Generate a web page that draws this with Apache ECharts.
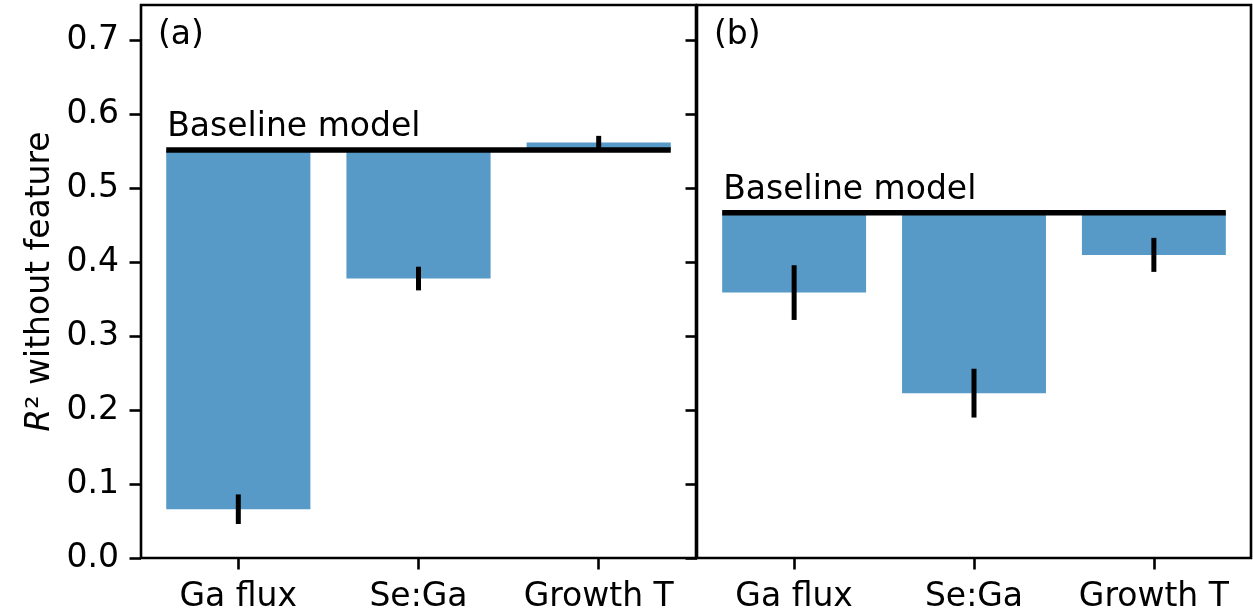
<!DOCTYPE html>
<html>
<head>
<meta charset="utf-8">
<script src="https://cdn.jsdelivr.net/npm/echarts@6/dist/echarts.min.js"></script>
<style>html,body{margin:0;padding:0;background:#fff}#c{width:1253px;height:615px}</style>
</head>
<body>
<div id="c"></div>
<script>
// ---- data ----
const categories = ['Ga flux', 'Se:Ga', 'Growth T'];
const baselineA = 0.552;
const valuesA = [0.066, 0.378, 0.562];
const errorsA = [0.020, 0.016, 0.009];
const baselineB = 0.467;
const valuesB = [0.359, 0.223, 0.410];
const errorsB = [0.037, 0.033, 0.023];
const yTicks = [0, 0.1, 0.2, 0.3, 0.4, 0.5, 0.6, 0.7];
const xTicks = [0, 1, 2];
const panelLabels = ['(a)', '(b)'];
const baselineText = 'Baseline model';
const yAxisName = '{i|R}\u00B2 without feature';

// ---- style ----
const FONT = 'DejaVu Sans';
const FS = 33;
const BAR_COLOR = '#5799c7';
const BAR_W = 0.8;
const SPINE_W = 2.6;

const chart = echarts.init(document.getElementById('c'), null, {renderer: 'canvas'});

function barItem(params, api) {
  const x = api.value(0), v = api.value(1), b = api.value(2);
  const p1 = api.coord([x - BAR_W / 2, b]);
  const p2 = api.coord([x + BAR_W / 2, v]);
  return {
    type: 'rect',
    shape: {x: p1[0], y: Math.min(p1[1], p2[1]), width: p2[0] - p1[0], height: Math.abs(p2[1] - p1[1])},
    style: {fill: BAR_COLOR}
  };
}
function errItem(params, api) {
  const x = api.value(0), v = api.value(1), e = api.value(2);
  const p1 = api.coord([x, v - e]);
  const p2 = api.coord([x, v + e]);
  return {
    type: 'line',
    shape: {x1: p1[0], y1: p1[1], x2: p2[0], y2: p2[1]},
    style: {stroke: '#000', lineWidth: 5}
  };
}
function baseItem(params, api) {
  const b = api.value(0);
  const p1 = api.coord([0 - BAR_W / 2, b]);
  const p2 = api.coord([categories.length - 1 + BAR_W / 2, b]);
  return {
    type: 'group',
    children: [
      {type: 'line', shape: {x1: p1[0], y1: p1[1], x2: p2[0], y2: p2[1]}, style: {stroke: '#000', lineWidth: 5.5}},
      {type: 'text', x: p1[0] + 1, y: p1[1] - 6,
       style: {text: baselineText, font: FS + 'px "' + FONT + '"', fill: '#000', align: 'left', verticalAlign: 'bottom'}}
    ]
  };
}

function makeGrid(left, width) {
  return {left: left, top: 5, width: width, height: 553, show: true, borderColor: '#000', borderWidth: SPINE_W, backgroundColor: 'transparent'};
}
function makeX(idx) {
  return {
    type: 'value', gridIndex: idx, min: -0.54, max: 2.54, position: 'bottom',
    axisLine: {show: false, onZero: false}, splitLine: {show: false},
    axisTick: {show: true, inside: false, length: 11.5, customValues: xTicks, lineStyle: {color: '#000', width: SPINE_W}},
    axisLabel: {show: true, customValues: xTicks, margin: 23, color: '#000', fontSize: FS, fontFamily: FONT,
      formatter: v => categories[Math.round(v)]}
  };
}
function makeY(idx, showLabels) {
  const y = {
    type: 'value', gridIndex: idx, min: 0, max: 0.748, position: 'left',
    axisLine: {show: false, onZero: false}, splitLine: {show: false},
    axisTick: {show: true, inside: false, length: 11.5, customValues: yTicks, lineStyle: {color: '#000', width: SPINE_W}},
    axisLabel: {show: showLabels, customValues: yTicks, margin: 22, color: '#000', fontSize: FS, fontFamily: FONT,
      formatter: v => v.toFixed(1)}
  };
  if (showLabels) {
    y.name = yAxisName;
    y.nameLocation = 'middle';
    y.nameGap = 84;
    y.nameTextStyle = {color: '#000', fontSize: FS, fontFamily: FONT,
      rich: {i: {fontStyle: 'italic', fontSize: FS, fontFamily: FONT, color: '#000'}}};
  }
  return y;
}

const panels = [
  {values: valuesA, errors: errorsA, baseline: baselineA},
  {values: valuesB, errors: errorsB, baseline: baselineB}
];
const series = [];
panels.forEach((p, k) => {
  series.push({type: 'custom', xAxisIndex: k, yAxisIndex: k, renderItem: barItem, silent: true,
    data: categories.map((c, i) => [i, p.values[i], p.baseline])});
  series.push({type: 'custom', xAxisIndex: k, yAxisIndex: k, renderItem: errItem, silent: true,
    data: categories.map((c, i) => [i, p.values[i], p.errors[i]])});
  series.push({type: 'custom', xAxisIndex: k, yAxisIndex: k, renderItem: baseItem, silent: true, z: 5,
    data: [[p.baseline]]});
});

chart.setOption({
  animation: false,
  backgroundColor: '#fff',
  title: [
    {text: panelLabels[0], left: 153, top: 14, textStyle: {fontSize: FS, fontWeight: 'normal', fontFamily: FONT, color: '#000'}},
    {text: panelLabels[1], left: 709, top: 14, textStyle: {fontSize: FS, fontWeight: 'normal', fontFamily: FONT, color: '#000'}}
  ],
  grid: [makeGrid(141, 555), makeGrid(697, 554)],
  xAxis: [makeX(0), makeX(1)],
  yAxis: [makeY(0, true), makeY(1, false)],
  series: series
});
</script>
</body>
</html>
